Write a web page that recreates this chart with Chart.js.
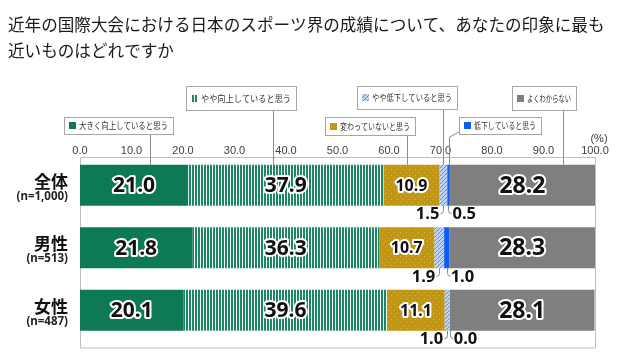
<!DOCTYPE html>
<html><head><meta charset="utf-8">
<script src="https://cdn.jsdelivr.net/npm/chart.js@4/dist/chart.umd.min.js"></script>
<style>html,body{margin:0;padding:0;background:#fff}#wrap{position:relative;width:636px;height:358px}</style>
</head><body><div id="wrap"><canvas id="c" width="636" height="358"></canvas></div>
<script>
const titleLines = ['近年の国際大会における日本のスポーツ界の成績について、あなたの印象に最も', '近いものはどれですか'];
const categories = ['全体', '男性', '女性'];
const sampleSizes = ['(n=1,000)', '(n=513)', '(n=487)'];
const seriesNames = ['大きく向上していると思う', 'やや向上していると思う', '変わっていないと思う', 'やや低下していると思う', '低下していると思う', 'よくわからない'];
const bigUp = [21.0, 21.8, 20.1];
const slightUp = [37.9, 36.3, 39.6];
const noChange = [10.9, 10.7, 11.1];
const slightDown = [1.5, 1.9, 1.0];
const down = [0.5, 1.0, 0.0];
const unknown = [28.2, 28.3, 28.1];
const tickLabels = ['0.0', '10.0', '20.0', '30.0', '40.0', '50.0', '60.0', '70.0', '80.0', '90.0', '100.0'];
const unitLabel = '(%)';

function makePattern(w, h, draw) {
  const c = document.createElement('canvas'); c.width = w; c.height = h;
  const x = c.getContext('2d'); draw(x);
  return x.createPattern(c, 'repeat');
}
const GREEN = '#0E7A55';
const greenStripe = makePattern(3, 2, x => { x.fillStyle = '#ffffff'; x.fillRect(0, 0, 3, 2); x.fillStyle = '#1A8862'; x.fillRect(0, 0, 2, 2); });
const goldDots = makePattern(6, 6, x => { x.fillStyle = '#C09612'; x.fillRect(0, 0, 6, 6); x.fillStyle = '#D8B550'; x.fillRect(1, 1, 1, 1); x.fillRect(4, 4, 1, 1); });
const blueHatch = makePattern(4, 4, x => { x.fillStyle = '#BCD2F7'; x.fillRect(0, 0, 4, 4); x.fillStyle = '#5A8CEB'; x.fillRect(0, 3, 1, 1); x.fillRect(1, 2, 1, 1); x.fillRect(2, 1, 1, 1); x.fillRect(3, 0, 1, 1); });
const BLUE = '#0A5CF2';
const GRAY = '#7F7F7F';
const fills = [GREEN, greenStripe, goldDots, blueHatch, BLUE, GRAY];
const seriesData = [bigUp, slightUp, noChange, slightDown, down, unknown];

// callout boxes for the legend (layout only)
const callouts = [
  { s: 0, x: 64, y: 117, w: 109, h: 17, lx: 150 },
  { s: 1, x: 186, y: 86, w: 110, h: 24, lx: 273 },
  { s: 2, x: 325, y: 117, w: 90, h: 18, lx: 407 },
  { s: 3, x: 357, y: 86, w: 100, h: 23, lx: 443 },
  { s: 4, x: 459, y: 117, w: 82, h: 17, lx: 449, bent: true },
  { s: 5, x: 512, y: 86, w: 64, h: 24, lx: 563 }
];

const NUMFONT = '"Noto Sans", "Open Sans", sans-serif';
const JPFONT = '"Noto Sans CJK JP", sans-serif';

const decor = {
  id: 'decor',
  beforeDatasetsDraw(chart) {
    const ctx = chart.ctx, xs = chart.scales.x, a = chart.chartArea;
    ctx.save();
    ctx.strokeStyle = '#BFBFBF'; ctx.lineWidth = 1;
    const l = Math.round(xs.getPixelForValue(0)) + 0.5, r = Math.round(xs.getPixelForValue(100)) + 0.5;
    ctx.beginPath();
    ctx.moveTo(l, a.top + 3.5); ctx.lineTo(r, a.top + 3.5); ctx.lineTo(r, a.bottom + 6.5); ctx.lineTo(l, a.bottom + 6.5); ctx.closePath();
    ctx.stroke();
    ctx.restore();
  },
  afterDatasetsDraw(chart) {
    const ctx = chart.ctx;
    ctx.save();
    chart.data.datasets.forEach((ds, di) => {
      const meta = chart.getDatasetMeta(di);
      meta.data.forEach((bar, i) => {
        const v = ds.data[i];
        const txt = v.toFixed(1);
        const p = bar.getProps(['x', 'y', 'base', 'height'], true);
        const cx = (p.x + p.base) / 2;
        if (di === 3 || di === 4) {
          const bottom = p.y + p.height / 2;
          ctx.strokeStyle = '#8C8C8C'; ctx.lineWidth = 1;
          ctx.beginPath();
          const lx = Math.round(cx) + 0.5;
          ctx.moveTo(lx, bottom); ctx.lineTo(lx, bottom + 5);
          ctx.quadraticCurveTo(lx, bottom + 8, di === 3 ? lx - 3 : lx + 3, bottom + 8);
          ctx.stroke();
          ctx.font = 'bold 16.5px ' + NUMFONT;
          ctx.fillStyle = '#111'; ctx.textBaseline = 'middle';
          ctx.textAlign = di === 3 ? 'right' : 'left';
          ctx.fillText(txt, di === 3 ? Math.max(cx - 4, p.x - 9) : cx + 4, bottom + 9);
        } else {
          const size = di === 2 ? 16 : (di === 5 ? 23 : 21);
          ctx.font = 'bold ' + size + 'px ' + NUMFONT;
          ctx.textAlign = 'center'; ctx.textBaseline = 'middle';
          ctx.lineJoin = 'round'; ctx.lineWidth = 4; ctx.strokeStyle = '#fff';
          ctx.strokeText(txt, cx, p.y + 1);
          ctx.fillStyle = '#111';
          ctx.fillText(txt, cx, p.y + 1);
        }
      });
    });
    ctx.restore();
  },
  afterDraw(chart) {
    const ctx = chart.ctx, xs = chart.scales.x, ys = chart.scales.y;
    ctx.save();
    // title
    ctx.font = '16.6px ' + JPFONT; ctx.fillStyle = '#1a1a1a'; ctx.textAlign = 'left'; ctx.textBaseline = 'middle';
    ctx.fillText(titleLines[0], 8, 25);
    ctx.fillText(titleLines[1], 8, 51);
    // ticks
    ctx.font = '11px "Liberation Sans", Arial, sans-serif'; ctx.fillStyle = '#404040'; ctx.textAlign = 'center';
    tickLabels.forEach(t => ctx.fillText(t, xs.getPixelForValue(parseFloat(t)), 151));
    ctx.fillText(unitLabel, xs.getPixelForValue(100) + 4, 139);
    // category labels
    ctx.textAlign = 'right';
    categories.forEach((c, i) => {
      const y = ys.getPixelForValue(i);
      ctx.fillStyle = '#111';
      ctx.font = 'bold 17px ' + JPFONT;
      ctx.fillText(c, 68, y - 4);
      ctx.font = 'bold 11.5px ' + NUMFONT;
      ctx.fillStyle = '#222';
      ctx.fillText(sampleSizes[i], 68, y + 11);
    });
    // callouts
    const barTop = ys.getPixelForValue(0) - chart.getDatasetMeta(0).data[0].height / 2;
    callouts.forEach(c => {
      ctx.strokeStyle = '#8C8C8C'; ctx.lineWidth = 1;
      ctx.beginPath();
      if (c.bent) {
        ctx.moveTo(c.x, c.y + c.h - 2); ctx.lineTo(c.lx + 0.5, c.y + c.h + 3); ctx.lineTo(c.lx + 0.5, barTop);
      } else {
        ctx.moveTo(c.lx + 0.5, c.y + c.h); ctx.lineTo(c.lx + 0.5, barTop);
      }
      ctx.stroke();
      ctx.fillStyle = '#fff'; ctx.fillRect(c.x, c.y, c.w, c.h);
      ctx.strokeStyle = '#A6A6A6';
      ctx.strokeRect(c.x + 0.5, c.y + 0.5, c.w, c.h);
      ctx.font = '9px ' + JPFONT;
      const maxW = c.w - 20;
      const tw = Math.min(ctx.measureText(seriesNames[c.s]).width, maxW);
      const total = 7 + 3 + tw;
      const sx = Math.round(c.x + (c.w - total) / 2);
      const my = c.y + c.h / 2;
      ctx.fillStyle = fills[c.s];
      ctx.fillRect(sx, Math.round(my - 3.5), 7, 7);
      ctx.fillStyle = '#333'; ctx.textAlign = 'left'; ctx.textBaseline = 'middle';
      ctx.fillText(seriesNames[c.s], sx + 10, my + 0.5, maxW);
    });
    ctx.restore();
  }
};

new Chart(document.getElementById('c').getContext('2d'), {
  type: 'bar',
  data: {
    labels: categories,
    datasets: seriesData.map((d, i) => ({
      label: seriesNames[i], data: d, backgroundColor: fills[i], borderWidth: 0,
      barPercentage: 0.656, categoryPercentage: 1
    }))
  },
  options: {
    indexAxis: 'y', responsive: false, animation: false, devicePixelRatio: 1,
    layout: { padding: { left: 80, right: 41, top: 154, bottom: 16.5 } },
    scales: {
      x: { stacked: true, min: 0, max: 100, display: false },
      y: { stacked: true, display: false }
    },
    plugins: { legend: { display: false }, tooltip: { enabled: false } }
  },
  plugins: [decor]
});
</script>
</body></html>
